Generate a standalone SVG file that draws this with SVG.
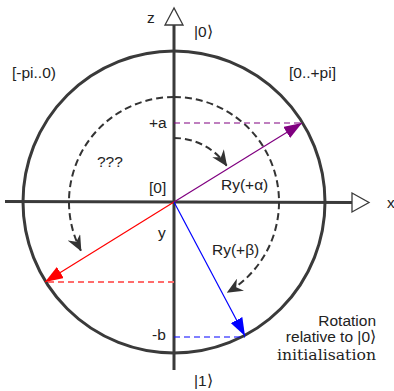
<svg xmlns="http://www.w3.org/2000/svg" width="394" height="391" viewBox="0 0 394 391">
<defs>
<style>
.t{font-family:"Liberation Sans",Arial,sans-serif;font-size:15.5px;fill:#222}
.s{font-family:"DejaVu Serif","Liberation Serif",serif;font-size:15.7px;fill:#222}
.ax{stroke:#3a3a3a;stroke-width:3;fill:none}
.oa{fill:#fff;stroke:#3a3a3a;stroke-width:1.3}
.da{fill:none;stroke:#333;stroke-width:2;stroke-dasharray:7 4}
.vec{stroke-width:1.2;fill:none}
.proj{stroke-width:1.2;fill:none;stroke-dasharray:6 4}
</style>
<marker id="mk" viewBox="0 0 16 14" markerWidth="16" markerHeight="14" refX="15" refY="7" orient="auto" markerUnits="userSpaceOnUse">
<path d="M0,0 L16,7 L0,14 L5,7 Z" fill="#333"/>
</marker>
<marker id="mp" viewBox="0 0 18 13" markerWidth="18" markerHeight="13" refX="18" refY="6.5" orient="auto" markerUnits="userSpaceOnUse">
<path d="M0,0 L18,6.5 L0,13 Z" fill="#800080"/>
</marker>
<marker id="mr" viewBox="0 0 18 13" markerWidth="18" markerHeight="13" refX="18" refY="6.5" orient="auto" markerUnits="userSpaceOnUse">
<path d="M0,0 L18,6.5 L0,13 Z" fill="#ff0000"/>
</marker>
<marker id="mb" viewBox="0 0 18 13" markerWidth="18" markerHeight="13" refX="18" refY="6.5" orient="auto" markerUnits="userSpaceOnUse">
<path d="M0,0 L18,6.5 L0,13 Z" fill="#0000ff"/>
</marker>
</defs>
<rect width="394" height="391" fill="#fff"/>
<g id="sphere">
<circle cx="174" cy="202" r="151" class="ax"/>
</g>
<g id="axes">
<line x1="5" y1="201.5" x2="352" y2="202.5" class="ax"/>
<line x1="174" y1="25" x2="174" y2="370" class="ax"/>
<polygon points="174,8 165,25 183,25" class="oa"/>
<polygon points="352,193 369,202.5 352,212" class="oa"/>
</g>
<g id="connectors">
<path d="M174,97 A105,105 0 0 0 80.9,250.6" class="da" marker-end="url(#mk)"/>
<path d="M174,97 A105,105 0 0 1 227.6,292.3" class="da" marker-end="url(#mk)"/>
<path d="M174,138 A64,64 0 0 1 226.6,165.6" class="da" marker-end="url(#mk)"/>
<line x1="174" y1="123" x2="302" y2="123" class="proj" stroke="#800080"/>
<line x1="174" y1="282" x2="46" y2="282" class="proj" stroke="#ff6b6b" style="stroke-width:1.8"/>
<line x1="174" y1="337" x2="245" y2="337" class="proj" stroke="#0000ff"/>
<line x1="174" y1="202" x2="302" y2="123" class="vec" stroke="#800080" marker-end="url(#mp)"/>
<line x1="174" y1="202" x2="45" y2="282" class="vec" stroke="#ff0000" marker-end="url(#mr)"/>
<line x1="174" y1="202" x2="245" y2="336" class="vec" stroke="#0000ff" marker-end="url(#mb)"/>
</g>
<g id="labels">
<text class="t" x="147" y="23">z</text>
<text class="t" x="194" y="37">|0⟩</text>
<text class="t" x="194" y="386">|1⟩</text>
<text class="t" x="387" y="208">x</text>
<text class="t" x="12" y="78">[-pi..0)</text>
<text class="t" x="289" y="78">[0..+pi]</text>
<text class="t" x="149" y="128">+a</text>
<text class="t" x="97" y="167">???</text>
<text class="t" x="149" y="193">[0]</text>
<text class="t" x="158" y="238">y</text>
<text class="t" x="152" y="340">-b</text>
<text class="t" x="221" y="190">Ry(+α)</text>
<text class="t" x="212" y="255">Ry(+β)</text>
<text class="t" x="376" y="326" text-anchor="end">Rotation</text>
<text class="t" x="376" y="342" text-anchor="end">relative to |0⟩</text>
<text class="s" x="376" y="360" text-anchor="end">initialisation</text>
</g>
</svg>
